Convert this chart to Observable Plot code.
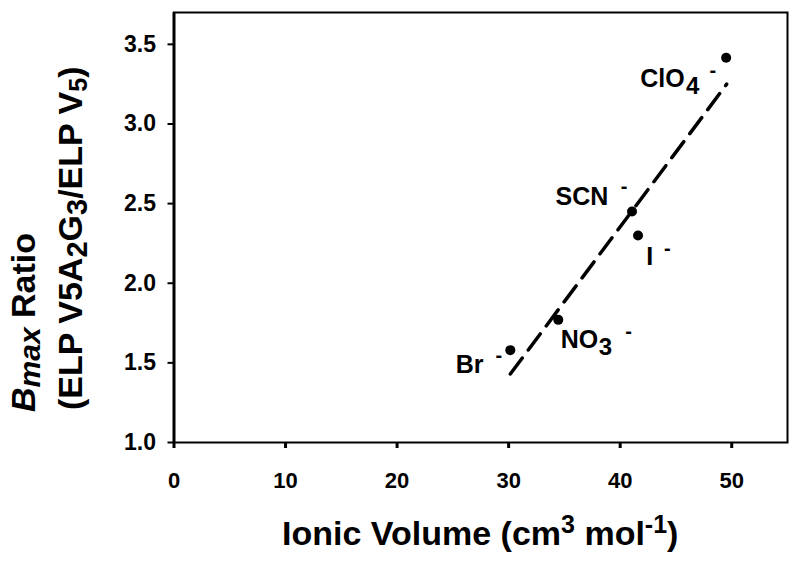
<!DOCTYPE html>
<html>
<head>
<meta charset="utf-8">
<script src="https://cdn.jsdelivr.net/npm/d3@7"></script>
<script src="https://cdn.jsdelivr.net/npm/@observablehq/plot@0.6"></script>
<style>
  html, body { margin: 0; padding: 0; background: #fff; }
  #chart svg { display: block; }
</style>
</head>
<body>
<div id="chart"></div>
<script>
// ---- data ----
const ions = ["Br", "NO3", "SCN", "I", "ClO4"];
const volumes = [30.15, 34.45, 41.06, 41.6, 49.5];
const ratios = [1.58, 1.77, 2.45, 2.30, 3.416];
const fitVolumes = [30.15, 49.55];
const fitRatios = [1.43, 3.25];
const xTicks = [0, 10, 20, 30, 40, 50];
const yTicks = [1.0, 1.5, 2.0, 2.5, 3.0, 3.5];
const labelMain = ["Br", "NO", "SCN", "I", "ClO"];
const labelSub = ["", "3", "", "", "4"];
const labelSup = ["-", "-", "-", "-", "-"];

// ---- layout (pixel offsets for the annotation text) ----
const labelOffset = [[-54, 23], [3, 29], [-76, -5.7], [8.7, 30], [-85.5, 30]];
const subShift = [[0, 0], [0.5, 7], [0, 0], [0, 0], [1.5, 6.3]];
const supShift = [[12, -10.7], [13, -17.3], [12.5, -12.3], [10.8, -10], [10, -17]];

const FONT = "'Liberation Sans', Arial, Helvetica, sans-serif";

const points = ions.map((ion, i) => ({ion, v: volumes[i], r: ratios[i]}));
const fit = fitVolumes.map((v, i) => ({v, r: fitRatios[i]}));

const chart = Plot.plot({
  width: 800,
  height: 569,
  marginLeft: 173.5,
  marginRight: 13,
  marginTop: 12,
  marginBottom: 127,
  style: {fontFamily: FONT, fontWeight: "bold", background: "#fff", color: "#000"},
  x: {domain: [0, 55]},
  y: {domain: [1.0, 3.7]},
  marks: [
    Plot.frame({stroke: "#000", strokeWidth: 2}),
    Plot.ruleX([0], {stroke: "#000", strokeWidth: 3}),
    Plot.axisX({ticks: xTicks, tickSize: 6, tickPadding: 24, fontSize: 22, fontWeight: "bold", strokeWidth: 3, label: null, tickFormat: d => String(d)}),
    Plot.axisY({ticks: yTicks, tickSize: 6, tickPadding: 12, fontSize: 23, fontWeight: "bold", strokeWidth: 2, label: null, tickFormat: d3.format(".1f")}),
    Plot.line(fit, {x: "v", y: "r", stroke: "#000", strokeWidth: 3.5, strokeDasharray: "20,10"}),
    Plot.dot(points, {x: "v", y: "r", r: 5, fill: "#000", stroke: "none"})
  ]
});

document.getElementById("chart").appendChild(chart);

const svg = d3.select(chart);
const sx = chart.scale("x"), sy = chart.scale("y");

// ion labels
points.forEach((p, i) => {
  const px = sx.apply(p.v) + labelOffset[i][0];
  const py = sy.apply(p.r) + labelOffset[i][1];
  const t = svg.append("text")
    .attr("x", px).attr("y", py)
    .attr("text-anchor", "start")
    .attr("font-family", FONT).attr("font-weight", "bold")
    .attr("font-size", 25).attr("fill", "#000");
  t.append("tspan").text(labelMain[i]);
  if (labelSub[i]) {
    t.append("tspan").attr("dx", subShift[i][0]).attr("dy", subShift[i][1])
      .attr("font-size", 24).text(labelSub[i]);
  }
  t.append("tspan").attr("dx", supShift[i][0]).attr("dy", supShift[i][1])
    .attr("font-size", 20).text(labelSup[i]);
});

// x axis title
const xt = svg.append("text")
  .attr("x", (sx.range[0] + sx.range[1]) / 2).attr("y", 545)
  .attr("text-anchor", "middle")
  .attr("font-family", FONT).attr("font-weight", "bold")
  .attr("font-size", 34).attr("fill", "#000");
xt.append("tspan").text("Ionic Volume (cm");
xt.append("tspan").attr("dy", -12).attr("font-size", 25).text("3");
xt.append("tspan").attr("dy", 12).text(" mol");
xt.append("tspan").attr("dy", -12).attr("font-size", 25).text("-1");
xt.append("tspan").attr("dy", 12).text(")");

// y axis title, line 1
const y1 = svg.append("text")
  .attr("transform", "translate(35,412) rotate(-90)")
  .attr("text-anchor", "start")
  .attr("font-family", FONT).attr("font-weight", "bold")
  .attr("font-size", 34).attr("fill", "#000");
y1.append("tspan").attr("font-style", "italic").text("B");
y1.append("tspan").attr("dy", 5).attr("font-size", 30).attr("font-style", "italic").text("max");
y1.append("tspan").attr("dy", -5).text(" Ratio");

// y axis title, line 2
const y2 = svg.append("text")
  .attr("transform", "translate(82,410) rotate(-90)")
  .attr("text-anchor", "start")
  .attr("font-family", FONT).attr("font-weight", "bold")
  .attr("font-size", 34).attr("fill", "#000");
y2.append("tspan").text("(ELP V5A");
y2.append("tspan").attr("dy", 5).attr("font-size", 29).text("2");
y2.append("tspan").attr("dy", -5).text("G");
y2.append("tspan").attr("dy", 5).attr("font-size", 29).text("3");
y2.append("tspan").attr("dy", -5).text("/ELP V");
y2.append("tspan").attr("dy", 5).attr("font-size", 25).text("5");
y2.append("tspan").attr("dy", -5).text(")");
</script>
</body>
</html>
